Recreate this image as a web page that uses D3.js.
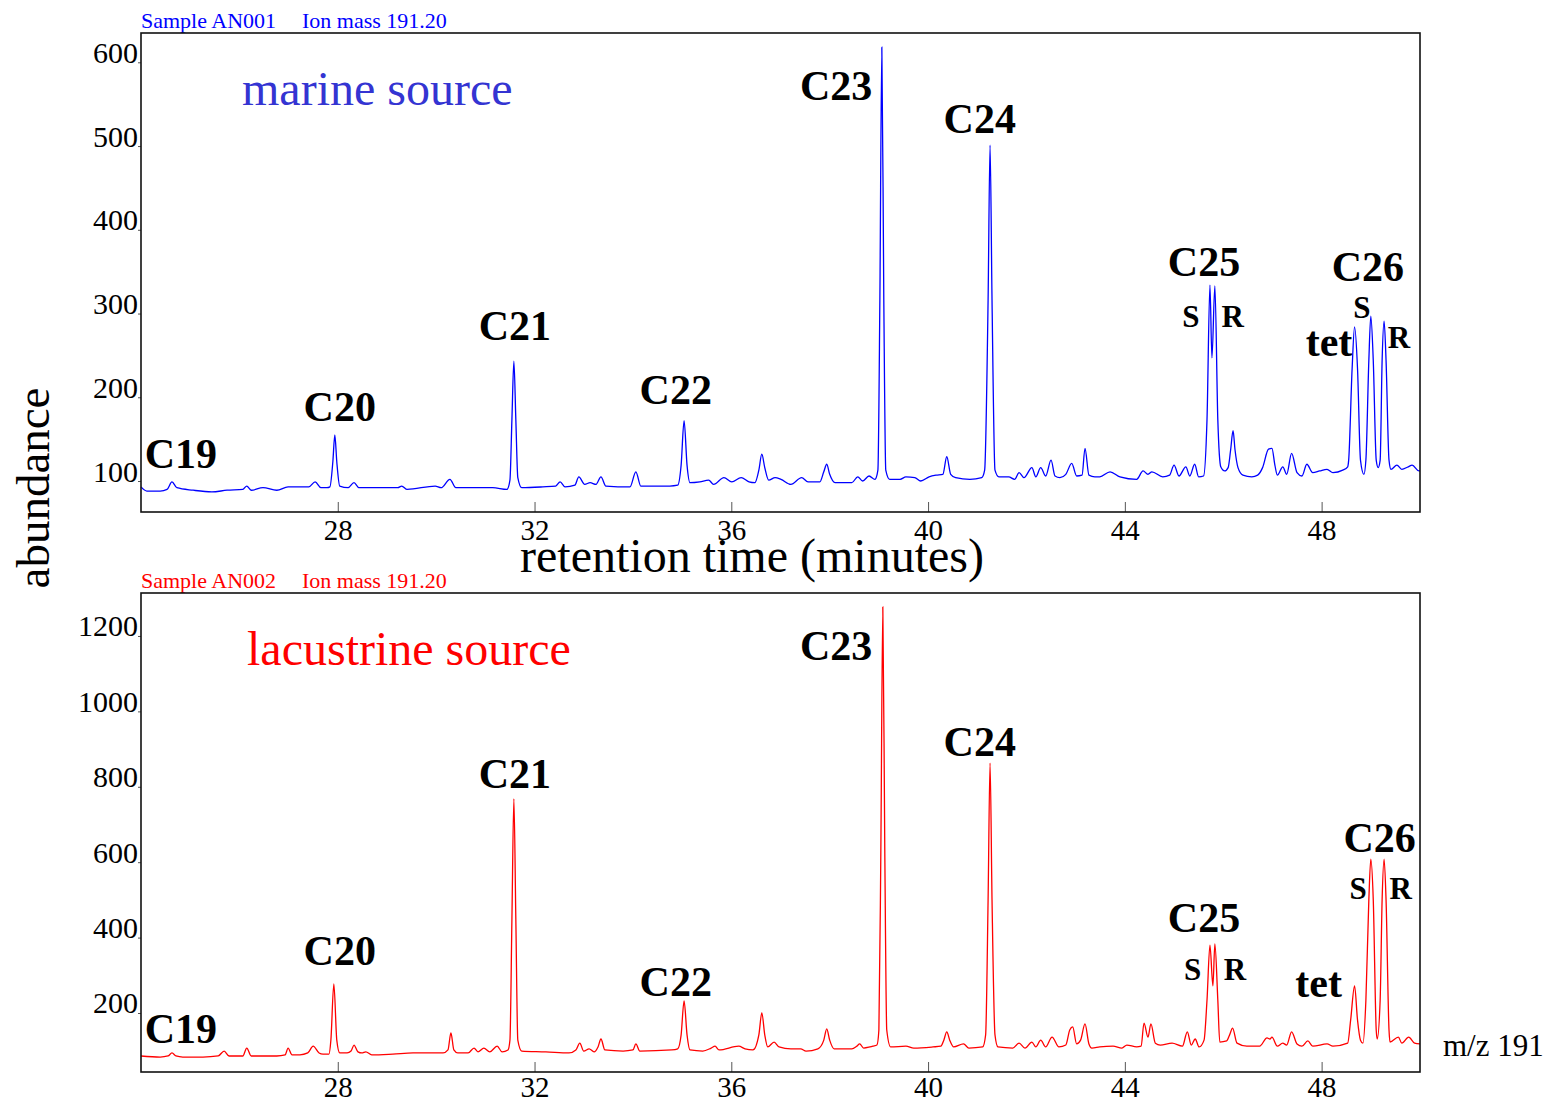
<!DOCTYPE html>
<html>
<head>
<meta charset="utf-8">
<script src="https://cdn.jsdelivr.net/npm/d3@7"></script>
<style>
  body { margin: 0; background: #fff; }
  svg text { font-family: "Liberation Serif", "Times New Roman", serif; }
</style>
</head>
<body>
<div id="chart"></div>
<script>
// retention time axis (minutes)
const retentionDomain = [24, 50];
const retentionTicks = [28, 32, 36, 40, 44, 48];

// abundance axes
const marineDomain = [63, 635];
const marineTicks = [100, 200, 300, 400, 500, 600];
const lacustrineDomain = [43.5, 1314];
const lacustrineTicks = [200, 400, 600, 800, 1000, 1200];

// traces: [retention time, abundance]
const marineTrace = [
  [24.00,93],[24.12,88],[24.39,88],[24.53,90],[24.63,99],[24.73,92],[25.06,89],[25.44,87],[25.75,89],[26.07,90],
  [26.15,94],[26.24,89],[26.48,92],[26.76,89],[26.99,93],[27.33,93],[27.41,93],[27.54,99],[27.66,92],[27.78,92],
  [27.84,93],[27.90,123],[27.94,155],[27.98,123],[28.04,94],[28.21,92],[28.33,98],[28.43,92],[28.86,92],[29.22,92],
  [29.30,94],[29.41,90],[29.98,94],[30.10,92],[30.28,102],[30.40,92],[31.15,92],[31.44,90],[31.50,101],[31.54,173],
  [31.58,243],[31.62,173],[31.66,104],[31.74,92],[32.17,93],[32.43,94],[32.52,99],[32.62,93],[32.82,95],[32.90,105],
  [33.02,96],[33.13,98],[33.25,96],[33.35,105],[33.45,94],[33.94,93],[34.06,111],[34.16,94],[34.75,94],[34.91,95],
  [34.98,119],[35.04,172],[35.10,119],[35.16,98],[35.36,99],[35.54,101],[35.64,96],[35.85,104],[36.01,99],[36.20,104],
  [36.36,99],[36.48,98],[36.56,113],[36.62,132],[36.68,116],[36.76,101],[36.89,104],[37.01,102],[37.21,96],[37.43,104],
  [37.56,99],[37.80,99],[37.88,111],[37.94,120],[38.00,108],[38.11,98],[38.45,98],[38.57,105],[38.67,100],[38.80,106],
  [38.92,102],[38.98,113],[39.02,316],[39.06,618],[39.10,316],[39.14,113],[39.22,102],[39.43,102],[39.55,105],[39.73,104],
  [39.85,100],[40.02,105],[40.16,107],[40.30,108],[40.38,129],[40.46,108],[40.56,104],[40.85,102],[41.09,104],[41.15,113],
  [41.22,316],[41.26,501],[41.30,316],[41.36,113],[41.44,105],[41.64,105],[41.76,102],[41.85,110],[41.95,104],[42.11,116],
  [42.19,105],[42.29,116],[42.39,106],[42.50,125],[42.58,106],[42.68,104],[42.80,108],[42.92,121],[43.02,106],[43.13,107],
  [43.19,139],[43.27,107],[43.39,105],[43.49,105],[43.70,111],[43.90,105],[44.24,102],[44.37,112],[44.47,108],[44.55,111],
  [44.77,105],[44.91,107],[45.00,119],[45.10,106],[45.24,117],[45.32,106],[45.42,120],[45.50,105],[45.60,106],[45.67,173],
  [45.73,334],[45.77,247],[45.83,333],[45.89,173],[45.95,117],[46.03,112],[46.10,116],[46.15,137],[46.20,160],[46.24,137],
  [46.30,116],[46.40,107],[46.58,105],[46.70,107],[46.80,116],[46.92,138],[46.99,139],[47.05,119],[47.10,107],[47.21,117],
  [47.29,108],[47.39,133],[47.50,110],[47.60,106],[47.70,120],[47.82,110],[47.96,112],[48.11,114],[48.23,110],[48.43,113],
  [48.53,117],[48.55,125],[48.62,234],[48.67,284],[48.73,234],[48.79,125],[48.86,108],[48.90,125],[48.96,244],[49.00,297],
  [49.05,244],[49.11,125],[49.15,116],[49.19,125],[49.23,244],[49.27,291],[49.31,244],[49.37,125],[49.41,114],[49.53,119],
  [49.63,114],[49.76,117],[49.84,119],[49.98,112],[50.00,112]
];

const lacustrineTrace = [
  [24.00,86],[24.39,83],[24.55,86],[24.63,94],[24.71,86],[24.85,83],[25.26,83],[25.57,86],[25.69,99],[25.79,86],
  [26.07,86],[26.15,107],[26.24,86],[26.76,86],[26.93,89],[26.99,107],[27.07,89],[27.23,89],[27.39,94],[27.50,112],
  [27.62,94],[27.70,91],[27.82,91],[27.86,128],[27.92,277],[27.98,128],[28.04,94],[28.19,94],[28.27,99],[28.33,115],
  [28.41,97],[28.49,94],[28.57,97],[28.69,89],[29.12,91],[29.53,94],[30.14,94],[30.24,102],[30.30,147],[30.36,102],
  [30.44,94],[30.65,94],[30.77,107],[30.85,97],[30.97,107],[31.09,97],[31.24,112],[31.34,97],[31.46,102],[31.50,128],
  [31.54,447],[31.58,768],[31.62,447],[31.66,128],[31.74,99],[32.23,97],[32.70,94],[32.84,102],[32.92,120],[33.00,99],
  [33.11,105],[33.21,97],[33.29,110],[33.35,131],[33.43,102],[33.80,99],[34.00,102],[34.06,118],[34.14,99],[34.79,102],
  [34.91,105],[34.98,142],[35.04,232],[35.10,142],[35.16,102],[35.42,99],[35.59,107],[35.67,112],[35.75,102],[36.15,112],
  [36.28,105],[36.44,102],[36.56,142],[36.62,200],[36.68,142],[36.74,110],[36.87,123],[36.97,110],[37.21,105],[37.41,105],
  [37.52,99],[37.76,105],[37.88,128],[37.94,158],[38.00,128],[38.09,105],[38.45,105],[38.55,112],[38.61,118],[38.69,107],
  [38.82,110],[38.88,112],[38.96,115],[39.00,155],[39.04,632],[39.08,1277],[39.12,632],[39.16,155],[39.24,110],[39.55,112],
  [39.71,107],[40.10,110],[40.26,112],[40.32,128],[40.38,150],[40.44,128],[40.52,110],[40.72,118],[40.83,107],[41.11,110],
  [41.17,142],[41.22,500],[41.26,863],[41.30,500],[41.36,142],[41.42,110],[41.72,107],[41.85,120],[41.97,107],[42.11,123],
  [42.19,110],[42.29,128],[42.39,110],[42.52,136],[42.66,110],[42.80,115],[42.88,155],[42.94,163],[43.02,118],[43.10,128],
  [43.19,171],[43.27,118],[43.33,107],[43.49,110],[43.76,112],[43.94,107],[44.04,115],[44.24,110],[44.33,112],[44.39,173],
  [44.47,136],[44.53,171],[44.62,120],[44.72,115],[44.96,120],[45.17,112],[45.27,150],[45.35,115],[45.43,131],[45.51,110],
  [45.61,128],[45.67,234],[45.73,380],[45.79,272],[45.83,383],[45.89,234],[45.93,123],[46.07,126],[46.13,142],[46.19,160],
  [46.28,120],[46.48,112],[46.74,112],[46.89,134],[46.95,131],[46.99,136],[47.10,112],[47.21,120],[47.29,115],[47.39,150],
  [47.50,118],[47.60,112],[47.72,126],[47.82,112],[48.11,118],[48.23,112],[48.53,120],[48.59,181],[48.67,272],[48.73,181],
  [48.79,128],[48.84,120],[48.90,234],[48.96,500],[49.00,608],[49.05,500],[49.11,155],[49.13,131],[49.19,234],[49.23,500],
  [49.27,608],[49.31,500],[49.37,155],[49.39,123],[49.56,136],[49.63,120],[49.77,136],[49.89,120],[50.00,118]
];

// peak names, anchored at [retention time, abundance]
const marinePeaks = [
  ['C19', 24.81, 115], ['C20', 28.04, 172], ['C21', 31.60, 268], ['C22', 34.87, 192],
  ['C23', 38.13, 555], ['C24', 41.05, 516], ['C25', 45.61, 345], ['S', 45.34, 284],
  ['R', 46.19, 284], ['C26', 48.94, 339], ['S', 48.82, 295], ['tet', 48.15, 249], ['R', 49.57, 259]
];
const lacustrinePeaks = [
  ['C19', 24.81, 120], ['C20', 28.04, 327], ['C21', 31.60, 797], ['C22', 34.87, 245],
  ['C23', 38.13, 1136], ['C24', 41.05, 882], ['C25', 45.61, 415], ['S', 45.38, 288],
  ['R', 46.24, 288], ['tet', 47.94, 242], ['C26', 49.18, 627], ['S', 48.74, 502], ['R', 49.61, 502]
];

const W = 1546, H = 1103;
const plotLeft = 141, plotWidth = 1279, plotHeight = 479;

const svg = d3.select('#chart').append('svg')
    .attr('width', W)
    .attr('height', H);

const x = d3.scaleLinear().domain(retentionDomain).range([0, plotWidth]);

const panels = [
    { top: 33, trace: marineTrace, domain: marineDomain, ticks: marineTicks, peaks: marinePeaks,
      color: '#0000ff', sourceColor: '#3434d2', sample: 'Sample AN001', source: 'marine source',
      sourceX: 101, tickY: 28 },
    { top: 593, trace: lacustrineTrace, domain: lacustrineDomain, ticks: lacustrineTicks, peaks: lacustrinePeaks,
      color: '#ff0000', sourceColor: '#ff0000', sample: 'Sample AN002', source: 'lacustrine source',
      sourceX: 106, tickY: 25 }
];

panels.forEach(p => {
    const g = svg.append('g').attr('transform', `translate(${plotLeft},${p.top})`);
    const y = d3.scaleLinear().domain(p.domain).range([plotHeight, 0]);

    // sample header
    g.append('text').attr('x', 0).attr('y', -5)
        .attr('fill', p.color).style('font-size', '22px').text(p.sample);
    g.append('text').attr('x', 161).attr('y', -5)
        .attr('fill', p.color).style('font-size', '22px').text('Ion mass 191.20');

    // x axis, ticks pointing inward
    const xg = g.append('g')
        .attr('transform', `translate(0,${plotHeight})`)
        .call(d3.axisBottom(x).tickValues(retentionTicks).tickSizeInner(-10).tickSizeOuter(0));
    xg.select('.domain').remove();
    xg.selectAll('line').attr('stroke', '#555');
    xg.selectAll('text')
        .attr('y', p.tickY).attr('dy', 0)
        .attr('fill', '#000')
        .style('font-size', '29px')
        .style('font-family', '"Liberation Serif", serif');

    // y axis, label baseline sits on tick
    const yg = g.append('g')
        .call(d3.axisLeft(y).tickValues(p.ticks).tickSize(3).tickPadding(0).tickFormat(d3.format('d')));
    yg.select('.domain').remove();
    yg.selectAll('line').attr('stroke', '#555');
    yg.selectAll('text')
        .attr('dy', 0)
        .attr('fill', '#000')
        .style('font-size', '30px')
        .style('font-family', '"Liberation Serif", serif');

    // trace
    const line = d3.line()
        .x(d => x(d[0]))
        .y(d => y(d[1]))
        .curve(d3.curveMonotoneX);
    g.append('path')
        .datum(p.trace)
        .attr('d', line)
        .attr('fill', 'none')
        .attr('stroke', p.color)
        .attr('stroke-width', 1.3);

    // frame
    g.append('rect')
        .attr('width', plotWidth).attr('height', plotHeight)
        .attr('fill', 'none').attr('stroke', '#111').attr('stroke-width', 1.6);

    // source name
    g.append('text')
        .attr('x', p.sourceX).attr('y', 72)
        .attr('fill', p.sourceColor)
        .style('font-size', '48px')
        .text(p.source);

    // peak labels
    g.selectAll('.peak')
        .data(p.peaks)
        .enter()
        .append('text')
        .attr('class', 'peak')
        .attr('x', d => x(d[1]))
        .attr('y', d => y(d[2]))
        .attr('text-anchor', 'middle')
        .style('font-weight', 'bold')
        .style('font-size', d => d[0].length === 1 ? '31px' : '42px')
        .text(d => d[0]);
});

// axis titles
svg.append('text')
    .attr('x', 752).attr('y', 572)
    .attr('text-anchor', 'middle')
    .style('font-size', '48px')
    .text('retention time (minutes)');

svg.append('text')
    .attr('transform', 'translate(49,488) rotate(-90)')
    .attr('text-anchor', 'middle')
    .style('font-size', '47px')
    .text('abundance');

svg.append('text')
    .attr('x', 1443).attr('y', 1056)
    .style('font-size', '31px')
    .text('m/z 191');
</script>
</body>
</html>
